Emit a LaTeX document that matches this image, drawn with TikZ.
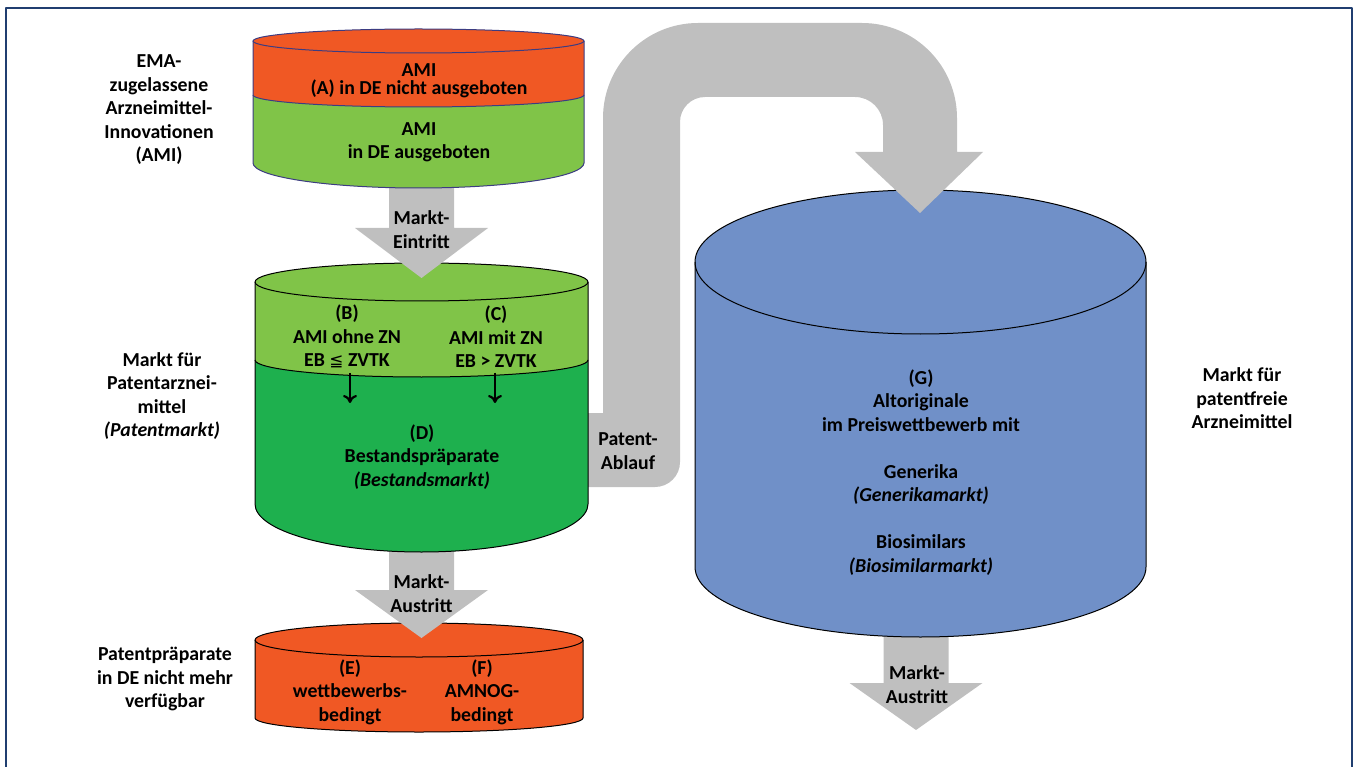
\documentclass[tikz,border=0pt]{standalone}
\usepackage{fontspec}
\setmainfont{Carlito}
\newfontfamily\symfont{DejaVu Sans}[Scale=0.85]
\usetikzlibrary{arrows.meta}
\definecolor{amired}{RGB}{240,88,36}
\definecolor{amigreen}{RGB}{128,196,72}
\definecolor{bestgreen}{RGB}{30,176,78}
\definecolor{freeblue}{RGB}{112,144,200}
\definecolor{flowgray}{RGB}{191,191,191}
\definecolor{frameblue}{RGB}{32,62,112}
\definecolor{amirim}{RGB}{60,60,130}
\begin{document}
\begin{tikzpicture}[x=1pt,y=-1pt,line join=round,
	font=\bfseries\fontsize{19.8}{23.5}\selectfont,
	lbl/.style={align=center,inner sep=0pt},
	rim/.style={draw=black,line width=1pt},
	flow/.style={fill=flowgray},
	dnarrow/.style={-{To[length=8pt,width=14pt]},line width=2.2pt}]
	\def\blockdn#1#2#3#4{\fill[flow] (#1-32.5,#2) -- (#1+32.5,#2) -- (#1+32.5,#3) -- (#1+66.5,#3) -- (#1,#4) -- (#1-66.5,#3) -- (#1-32.5,#3) -- cycle;}
	\useasboundingbox (0,0) rectangle (1357,767);
	\draw[frameblue,line width=1.6pt] (6,767) -- (6,8) -- (1352,8) -- (1352,767);
	\blockdn{916}{625}{683}{730}
	\fill[freeblue] (695,262) -- (695,567) arc[start angle=180,end angle=0,x radius=225.5,y radius=70] -- (1146,262) arc[start angle=0,end angle=-180,x radius=225.5,y radius=72] -- cycle;
	\draw[rim] (695,262) -- (695,567) arc[start angle=180,end angle=0,x radius=225.5,y radius=70] -- (1146,262);
	\draw[rim] (920.5,262) ellipse[x radius=225.5,y radius=72];
	\fill[flow] (570,413) -- (603,413) -- (603,118) arc[start angle=180,end angle=270,radius=95] -- (862,23) arc[start angle=270,end angle=360,radius=95] -- (957,152) -- (983,152) -- (920,213) -- (855,152) -- (883,152) -- (883,125) arc[start angle=0,end angle=-90,radius=28] -- (705,97) arc[start angle=-90,end angle=-180,radius=25] -- (680,462) arc[start angle=0,end angle=90,radius=25] -- (570,487) -- cycle;
	\fill[amired] (255,640) -- (255,718) arc[start angle=180,end angle=0,x radius=164,y radius=14] -- (583,640) arc[start angle=0,end angle=-180,x radius=164,y radius=17] -- cycle;
	\draw[rim] (255,640) -- (255,718) arc[start angle=180,end angle=0,x radius=164,y radius=14] -- (583,640);
	\draw[rim] (419,640) ellipse[x radius=164,y radius=17];
	\blockdn{421.5}{540}{590}{638}
	\fill[amigreen] (255,282) -- (255,360) arc[start angle=180,end angle=0,x radius=166.5,y radius=17] -- (588,282) arc[start angle=0,end angle=-180,x radius=166.5,y radius=19] -- cycle;
	\fill[bestgreen] (255,360) arc[start angle=180,end angle=0,x radius=166.5,y radius=17] -- (588,504) arc[start angle=0,end angle=180,x radius=166.5,y radius=48] -- cycle;
	\draw[rim] (255,282) -- (255,504) arc[start angle=180,end angle=0,x radius=166.5,y radius=48] -- (588,282);
	\draw[rim] (421.5,282) ellipse[x radius=166.5,y radius=19];
	\draw[rim] (255,360) arc[start angle=180,end angle=0,x radius=166.5,y radius=17];
	\blockdn{421.5}{180}{228}{278}
	\fill[amired] (253,41) -- (253,95) arc[start angle=180,end angle=0,x radius=165.5,y radius=12] -- (584,41) arc[start angle=0,end angle=-180,x radius=165.5,y radius=12] -- cycle;
	\fill[amigreen] (253,95) arc[start angle=180,end angle=0,x radius=165.5,y radius=12] -- (584,163) arc[start angle=0,end angle=180,x radius=165.5,y radius=25] -- cycle;
	\draw[rim,draw=amirim] (253,41) -- (253,163) arc[start angle=180,end angle=0,x radius=165.5,y radius=25] -- (584,41);
	\draw[rim,draw=amirim] (418.5,41) ellipse[x radius=165.5,y radius=12];
	\draw[rim,draw=amirim] (253,95) arc[start angle=180,end angle=0,x radius=165.5,y radius=12];
	\node[lbl] (ema) at (159,110) {EMA-\\zugelassene\\Arzneimittel-\\Innovationen\\(AMI)};
	\node[lbl] (patmkt) at (162,396) {Markt für\\Patentarznei-\\mittel\\\textit{(Patentmarkt)}};
	\node[lbl] (nichtmehr) at (165,679) {Patentpräparate\\in DE nicht mehr\\verfügbar};
	\node[lbl] (freimkt) at (1242,398.5) {Markt für\\patentfreie\\Arzneimittel};
	\node[lbl] (a) at (419,81) {AMI\\[-5.5pt](A) in DE nicht ausgeboten};
	\node[lbl] (amide) at (419,142.5) {AMI\\in DE ausgeboten};
	\node[lbl] (eintritt) at (421.5,229.5) {Markt-\\Eintritt};
	\node[lbl] (b) at (347,336.7) {(B)\\AMI ohne ZN\\EB {\symfont\mdseries ≦} ZVTK};
	\node[lbl] (c) at (496,336.7) {(C)\\AMI mit ZN\\EB > ZVTK};
	\node[lbl] (d) at (422,456.7) {(D)\\Bestandspräparate\\\textit{(Bestandsmarkt)}};
	\coordinate (bend) at (350,403);
	\coordinate (cend) at (495,403);
	\draw[dnarrow,shorten <=5pt] (bend |- b.south) -- (bend);
	\draw[dnarrow,shorten <=5pt] (cend |- c.south) -- (cend);
	\node[lbl] (austritt) at (421.5,593.5) {Markt-\\Austritt};
	\node[lbl] (e) at (350,692) {(E)\\wettbewerbs-\\bedingt};
	\node[lbl] (f) at (482,692) {(F)\\AMNOG-\\bedingt};
	\node[lbl] (ablauf) at (628,451) {Patent-\\Ablauf};
	\node[lbl] (g) at (921,472.5) {(G)\\Altoriginale\\im Preiswettbewerb mit\\[23.5pt]Generika\\\textit{(Generikamarkt)}\\[23.5pt]Biosimilars\\\textit{(Biosimilarmarkt)}};
	\node[lbl] (austrittg) at (917,684.5) {Markt-\\Austritt};
\end{tikzpicture}
\end{document}
